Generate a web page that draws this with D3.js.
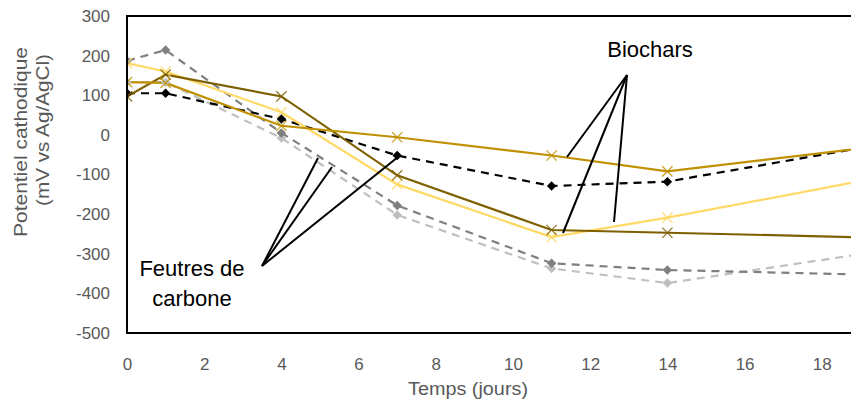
<!DOCTYPE html>
<html><head><meta charset="utf-8">
<script src="https://cdn.jsdelivr.net/npm/d3@7"></script>
<style>body{margin:0;background:#fff}svg{display:block}text{font-family:"Liberation Sans",Arial,sans-serif}</style>
</head><body><svg id="c" width="851" height="406"></svg>
<script>
// Data
const days = [0, 1, 4, 7, 11, 14, 21];
const blackDiamonds = [105, 105, 40, -52, -129, -118, 1];
const darkGrayDiamonds = [187, 214, 5, -178, -324, -341, -357];
const lightGrayDiamonds = [133, 133, -8, -202, -337, -374, -272];
const lightYellowCrosses = [181, 160, 57, -125, -258, -209, -80];
const oliveCrosses = [97, 152, 97, -102, -240, -247, -263];
const goldCrosses = [133, 131, 23, -6, -52, -92, -11];
const xTicks = [0, 2, 4, 6, 8, 10, 12, 14, 16, 18];
const yTicks = [300, 200, 100, 0, -100, -200, -300, -400, -500];

const series = [
  {v: lightGrayDiamonds, color: "#bfbfbf", dash: "8,6", marker: "diamond"},
  {v: darkGrayDiamonds, color: "#7f7f7f", dash: "8,6", marker: "diamond"},
  {v: blackDiamonds, color: "#000000", dash: "8,6", marker: "diamond"},
  {v: lightYellowCrosses, color: "#ffd966", dash: null, marker: "cross"},
  {v: oliveCrosses, color: "#7f6000", dash: null, marker: "cross"},
  {v: goldCrosses, color: "#bf9000", dash: null, marker: "cross"}
];

const svg = d3.select("#c");
const x = d3.scaleLinear().domain([0, 20]).range([127, 899]);
const y = d3.scaleLinear().domain([-500, 300]).range([333, 16]);

svg.append("clipPath").attr("id","clip").append("rect")
  .attr("x",127).attr("y",0).attr("width",724).attr("height",406);

const plot = svg.append("g").attr("clip-path","url(#clip)");
const line = d3.line().x((d,i)=>x(days[i])).y(d=>y(d));

const diamond = {draw(ctx, size){ const r = Math.sqrt(size)/2; ctx.moveTo(0,-r); ctx.lineTo(r,0); ctx.lineTo(0,r); ctx.lineTo(-r,0); ctx.closePath(); }};

series.forEach(s => {
  plot.append("path").attr("d", line(s.v)).attr("fill","none")
    .attr("stroke", s.color).attr("stroke-width", 2.2)
    .attr("stroke-dasharray", s.dash);
});
series.forEach(s => {
  const g = plot.append("g");
  s.v.forEach((val,i) => {
    if (s.marker === "diamond") {
      g.append("path").attr("d", d3.symbol(diamond, 90)())
        .attr("transform", `translate(${x(days[i])},${y(val)})`)
        .attr("fill", s.color);
    } else {
      g.append("path").attr("d", d3.symbol(d3.symbolTimes, 70)())
        .attr("transform", `translate(${x(days[i])},${y(val)})`)
        .attr("fill","none").attr("stroke", s.color).attr("stroke-width",1.3).attr("opacity",0.85);
    }
  });
});

// axes
const fmt = d => String(d);
const xAxis = d3.axisBottom(x).tickValues(xTicks).tickFormat(fmt).tickSize(0).tickPadding(25);
const gx = svg.append("g").attr("transform","translate(0,333)").call(xAxis);
gx.select(".domain").remove();
gx.selectAll("text").attr("fill","#595959").style("font-size","17px").style("font-family","Liberation Sans, Arial, sans-serif");

const yAxis = d3.axisLeft(y).tickValues(yTicks).tickFormat(fmt).tickSize(0).tickPadding(17);
const gy = svg.append("g").attr("transform","translate(127,0)").call(yAxis);
gy.select(".domain").remove();
gy.selectAll("text").attr("fill","#595959").style("font-size","17px").style("font-family","Liberation Sans, Arial, sans-serif");

// frame
svg.append("line").attr("x1",127).attr("x2",851).attr("y1",333).attr("y2",333).attr("stroke","#000").attr("stroke-width",2);
svg.append("line").attr("x1",127).attr("x2",851).attr("y1",16).attr("y2",16).attr("stroke","#000").attr("stroke-width",2);
svg.append("line").attr("x1",127).attr("x2",127).attr("y1",15).attr("y2",334).attr("stroke","#000").attr("stroke-width",2);

// titles
svg.append("text").attr("x",468).attr("y",395).attr("text-anchor","middle")
  .attr("fill","#595959").style("font-size","18px")
  .attr("textLength",120).attr("lengthAdjust","spacingAndGlyphs").text("Temps (jours)");
svg.append("text").attr("transform","translate(27,142) rotate(-90)")
  .attr("text-anchor","middle").attr("fill","#595959").style("font-size","18px")
  .attr("textLength",190).attr("lengthAdjust","spacingAndGlyphs").text("Potentiel cathodique");
svg.append("text").attr("transform","translate(49,130) rotate(-90)")
  .attr("text-anchor","middle").attr("fill","#595959").style("font-size","18px")
  .attr("textLength",152).attr("lengthAdjust","spacingAndGlyphs").text("(mV vs Ag/AgCl)");

// annotations
const ann = svg.append("g").attr("stroke","#000").attr("stroke-width",2);
[[567,157],[563,233],[614,222]].forEach(p=>ann.append("line").attr("x1",627).attr("y1",75).attr("x2",p[0]).attr("y2",p[1]));
[[318,158],[332,167],[398,157]].forEach(p=>ann.append("line").attr("x1",262).attr("y1",266).attr("x2",p[0]).attr("y2",p[1]));

svg.append("text").attr("x",650).attr("y",57).attr("text-anchor","middle").attr("fill","#000").style("font-size","22px").text("Biochars");
svg.append("text").attr("x",192).attr("y",276).attr("text-anchor","middle").attr("fill","#000").style("font-size","22px").text("Feutres de");
svg.append("text").attr("x",192).attr("y",306).attr("text-anchor","middle").attr("fill","#000").style("font-size","22px").text("carbone");
</script></body></html>
